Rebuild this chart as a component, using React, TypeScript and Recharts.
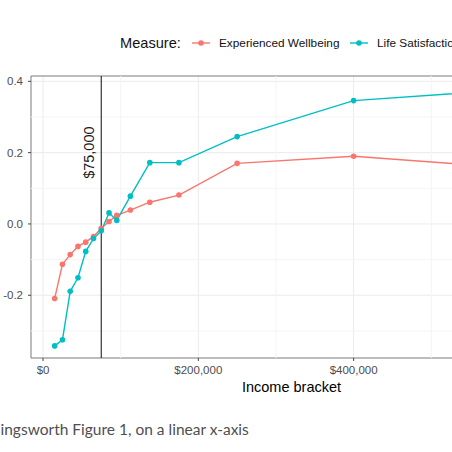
import React from "react";
import {
  LineChart,
  Line,
  XAxis,
  YAxis,
  CartesianGrid,
  ReferenceLine,
  ReferenceArea,
  ReferenceDot,
} from "recharts";

// income bracket midpoints (USD)
const incomeBrackets = [15000, 25000, 35000, 45000, 55000, 65000, 75000, 85000, 95000, 112500, 137500, 175000, 250000, 400000, 625000];
const experiencedWellbeing = [-0.209, -0.113, -0.086, -0.063, -0.051, -0.035, -0.012, 0.007, 0.024, 0.039, 0.061, 0.081, 0.17, 0.19, 0.154];
const lifeSatisfaction = [-0.342, -0.325, -0.189, -0.151, -0.077, -0.041, -0.019, 0.031, 0.01, 0.078, 0.172, 0.172, 0.245, 0.346, 0.38];

const xTicks = [0, 200000, 400000];
const xMinor = [100000, 300000, 500000];
const yTicks = [-0.2, 0, 0.2, 0.4];
const yMinor = [-0.3, -0.1, 0.1, 0.3];
const xDomain = [-15500, 655500];
const yDomain = [-0.376, 0.415];

const thresholdIncome = 75000;
const thresholdLabelAt = 0.2;
const thresholdLabel = "$75,000";

const legendTitle = "Measure:";
const seriesNames = ["Experienced Wellbeing", "Life Satisfaction"];
const seriesColors = ["#F8766D", "#00BFC4"];
const xTitle = "Income bracket";
const caption = "ingsworth Figure 1, on a linear x-axis";

const data = incomeBrackets.map((income, i) => ({
  income,
  experienced: experiencedWellbeing[i],
  life: lifeSatisfaction[i],
}));

const dollars = (v: number) => "$" + v.toLocaleString("en-US");
const tickFont = { fill: "#4d4d4d", fontSize: 11.5, fontFamily: "Liberation Sans, Arial, sans-serif" };

const ThresholdLabel = (props: any) => {
  const { viewBox } = props;
  const x = viewBox.x + viewBox.width / 2 - 12;
  const y = viewBox.y + viewBox.height / 2;
  return (
    <text
      x={x}
      y={y}
      transform={`rotate(-90 ${x} ${y})`}
      textAnchor="middle"
      dominantBaseline="central"
      fontSize={14.5}
      fontFamily="Liberation Sans, Arial, sans-serif"
      fill="#1a1a1a"
    >
      {thresholdLabel}
    </text>
  );
};

export default function App() {
  return (
    <div
      style={{
        position: "fixed",
        left: 0,
        top: 0,
        width: 452,
        height: 452,
        overflow: "hidden",
        background: "#ffffff",
      }}
    >
      <div style={{ position: "absolute", left: 0, top: 0 }}>
        <LineChart width={600} height={400} data={data} margin={{ top: 76, right: 48, bottom: 6, left: 5 }}>
          {xMinor.map((v) => (
            <ReferenceLine key={"xm" + v} x={v} stroke="#f4f4f4" strokeWidth={1} />
          ))}
          {yMinor.map((v) => (
            <ReferenceLine key={"ym" + v} y={v} stroke="#f4f4f4" strokeWidth={1} />
          ))}
          <CartesianGrid stroke="#ebebeb" strokeWidth={1} horizontalValues={yTicks} verticalValues={xTicks} />
          <XAxis
            dataKey="income"
            type="number"
            domain={xDomain}
            ticks={xTicks}
            allowDataOverflow
            tickFormatter={dollars}
            axisLine={false}
            tickLine={{ stroke: "#444" }}
            tickSize={3}
            tickMargin={5}
            height={36}
            tick={tickFont}
          />
          <YAxis
            type="number"
            domain={yDomain}
            ticks={yTicks}
            allowDataOverflow
            tickFormatter={(v: number) => v.toFixed(1)}
            axisLine={false}
            tickLine={{ stroke: "#444" }}
            tickSize={3}
            tickMargin={5}
            width={26}
            tick={tickFont}
          />
          <ReferenceLine x={thresholdIncome} stroke="#333333" strokeWidth={1.2} />
          <ReferenceDot
            x={thresholdIncome}
            y={thresholdLabelAt}
            r={0}
            fill="none"
            stroke="none"
            label={<ThresholdLabel />}
          />
          <Line
            dataKey="experienced"
            stroke={seriesColors[0]}
            strokeWidth={1.4}
            dot={{ r: 2.8, fill: seriesColors[0], stroke: "none" }}
            isAnimationActive={false}
          />
          <Line
            dataKey="life"
            stroke={seriesColors[1]}
            strokeWidth={1.4}
            dot={{ r: 2.8, fill: seriesColors[1], stroke: "none" }}
            isAnimationActive={false}
          />
          <ReferenceArea
            x1={xDomain[0]}
            x2={xDomain[1]}
            y1={yDomain[0]}
            y2={yDomain[1]}
            fill="none"
            stroke="#7a7a7a"
            strokeWidth={1}
            ifOverflow="visible"
          />
        </LineChart>
      </div>
      <svg
        width={452}
        height={452}
        style={{ position: "absolute", left: 0, top: 0, pointerEvents: "none" }}
        fontFamily="Liberation Sans, Arial, sans-serif"
      >
        <text x={120} y={48} fontSize={14.6} fill="#111">
          {legendTitle}
        </text>
        {[192, 350].map((x0, i) => (
          <g key={i}>
            <line x1={x0} x2={x0 + 18} y1={43} y2={43} stroke={seriesColors[i]} strokeWidth={1.4} />
            <circle cx={x0 + 9} cy={43} r={2.8} fill={seriesColors[i]} />
            <text x={x0 + 27} y={47} fontSize={11.8} fill="#111">
              {seriesNames[i]}
            </text>
          </g>
        ))}
        <text x={291.5} y={392} fontSize={14.5} textAnchor="middle" fill="#000">
          {xTitle}
        </text>
        <text x={0.5} y={435} fontSize={15.5} fontFamily="Lato, sans-serif" fill="#4f4f4f">
          {caption}
        </text>
      </svg>
    </div>
  );
}
